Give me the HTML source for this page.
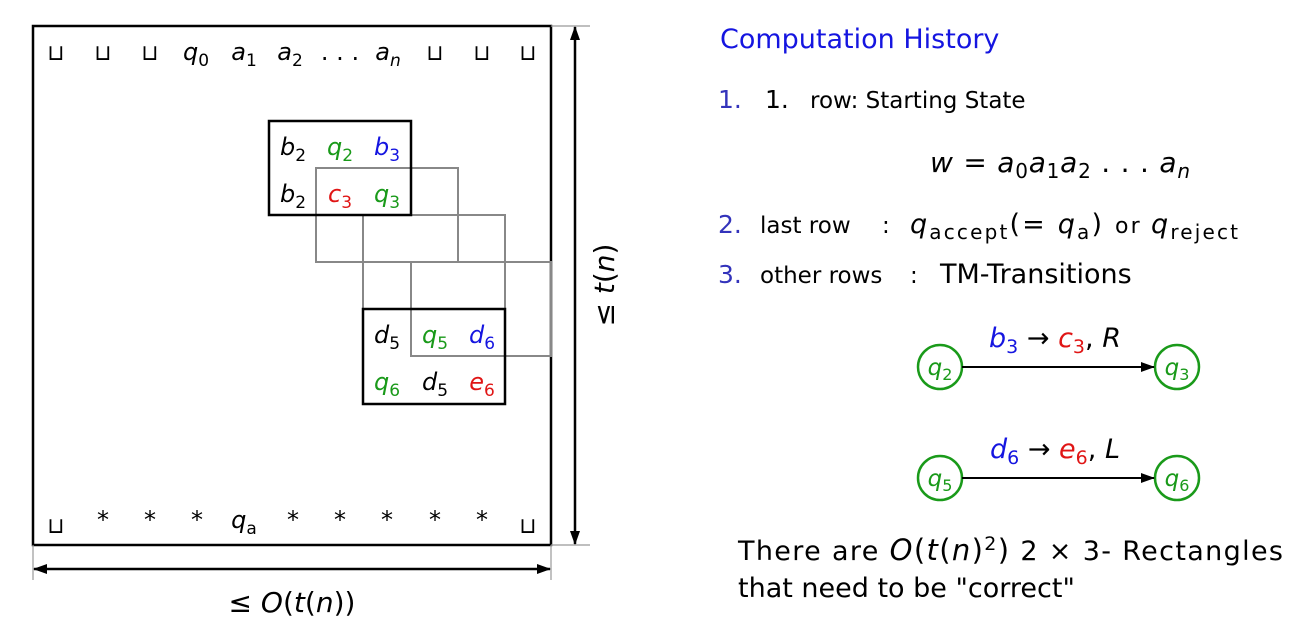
<!DOCTYPE html>
<html><head><meta charset="utf-8"><style>
html,body{margin:0;padding:0;background:#fff;}
svg{display:block;font-family:"DejaVu Sans","Liberation Sans",sans-serif;}
.m{font-style:italic;}
.g{fill:#1a9a1a;}.b{fill:#1515e0;}.r{fill:#e01515;}
</style></head><body>
<svg width="1311" height="624" viewBox="0 0 1311 624">
<defs><marker id="ah" markerUnits="userSpaceOnUse" markerWidth="14" markerHeight="10" refX="13" refY="5" orient="auto-start-reverse"><path d="M0,0 L14,5 L0,10 z" fill="#000"/></marker></defs>
<rect x="33" y="26" width="518" height="519" fill="none" stroke="#000" stroke-width="2.5"/>
<g font-size="24" text-anchor="middle">
<text x="56" y="60" font-size="22">⊔</text><text x="103" y="60" font-size="22">⊔</text><text x="150" y="60" font-size="22">⊔</text>
<text x="196" y="60" class="m">q<tspan font-size="17" dy="6" font-style="normal">0</tspan></text>
<text x="244" y="60" class="m">a<tspan font-size="17" dy="6" font-style="normal">1</tspan></text>
<text x="290" y="60" class="m">a<tspan font-size="17" dy="6" font-style="normal">2</tspan></text>
<text x="340" y="60">. . .</text>
<text x="388" y="60" class="m">a<tspan font-size="17" dy="6">n</tspan></text>
<text x="435" y="60" font-size="22">⊔</text><text x="482" y="60" font-size="22">⊔</text><text x="528" y="60" font-size="22">⊔</text>
</g>
<g fill="none" stroke="#888" stroke-width="2">
<rect x="316" y="168" width="142" height="94"/><rect x="363" y="215" width="142" height="94"/><rect x="411" y="262" width="140" height="94"/>
</g>
<rect x="269" y="121" width="142" height="94" fill="none" stroke="#000" stroke-width="2.5"/>
<rect x="363" y="309" width="142" height="95" fill="none" stroke="#000" stroke-width="2.5"/>
<g font-size="24" text-anchor="middle" class="m">
<text x="293" y="155">b<tspan font-size="17" dy="6" font-style="normal">2</tspan></text>
<text x="340" y="155" class="m g">q<tspan font-size="17" dy="6" font-style="normal">2</tspan></text>
<text x="387" y="155" class="m b">b<tspan font-size="17" dy="6" font-style="normal">3</tspan></text>
<text x="293" y="202">b<tspan font-size="17" dy="6" font-style="normal">2</tspan></text>
<text x="340" y="202" class="m r">c<tspan font-size="17" dy="6" font-style="normal">3</tspan></text>
<text x="387" y="202" class="m g">q<tspan font-size="17" dy="6" font-style="normal">3</tspan></text>
<text x="387" y="343">d<tspan font-size="17" dy="6" font-style="normal">5</tspan></text>
<text x="435" y="343" class="m g">q<tspan font-size="17" dy="6" font-style="normal">5</tspan></text>
<text x="482" y="343" class="m b">d<tspan font-size="17" dy="6" font-style="normal">6</tspan></text>
<text x="387" y="390" class="m g">q<tspan font-size="17" dy="6" font-style="normal">6</tspan></text>
<text x="435" y="390">d<tspan font-size="17" dy="6" font-style="normal">5</tspan></text>
<text x="482" y="390" class="m r">e<tspan font-size="17" dy="6" font-style="normal">6</tspan></text>
</g>
<g font-size="24" text-anchor="middle">
<text x="56" y="533" font-size="22">⊔</text>
<text x="103" y="528">*</text><text x="150" y="528">*</text><text x="197" y="528">*</text>
<text x="244" y="528" class="m">q<tspan font-size="17" dy="6" font-style="normal">a</tspan></text>
<text x="293" y="528">*</text><text x="340" y="528">*</text><text x="387" y="528">*</text><text x="435" y="528">*</text><text x="482" y="528">*</text>
<text x="528" y="533" font-size="22">⊔</text>
</g>
<g stroke="#999" stroke-width="1.2">
<line x1="551" y1="26" x2="590" y2="26"/><line x1="551" y1="545" x2="590" y2="545"/>
<line x1="33" y1="545" x2="33" y2="580"/><line x1="551" y1="545" x2="551" y2="580"/>
</g>
<line x1="575" y1="27" x2="575" y2="544" stroke="#000" stroke-width="2.5" marker-start="url(#ah)" marker-end="url(#ah)"/>
<line x1="34" y1="569" x2="550" y2="569" stroke="#000" stroke-width="2.5" marker-start="url(#ah)" marker-end="url(#ah)"/>
<text transform="translate(614,285) rotate(-90)" font-size="28" text-anchor="middle">≤ <tspan class="m">t</tspan>(<tspan class="m">n</tspan>)</text>
<text x="292" y="612" font-size="28" text-anchor="middle">≤ <tspan class="m">O</tspan>(<tspan class="m">t</tspan>(<tspan class="m">n</tspan>))</text>
<text x="720" y="48" font-size="27" fill="#1515e0">Computation History</text>
<g>
<text x="718" y="108" font-size="25" fill="#3333bb">1.</text><text x="765" y="108" font-size="25">1.</text><text x="810" y="108" font-size="23">row: Starting State</text>
<text x="930" y="172" font-size="28" class="m" textLength="260" lengthAdjust="spacing">w <tspan font-style="normal">=</tspan> a<tspan font-size="20" dy="6" font-style="normal">0</tspan><tspan dy="-6">a</tspan><tspan font-size="20" dy="6" font-style="normal">1</tspan><tspan dy="-6">a</tspan><tspan font-size="20" dy="6" font-style="normal">2</tspan><tspan dy="-6" font-style="normal"> . . . </tspan>a<tspan font-size="20" dy="6">n</tspan></text>
<text x="718" y="233" font-size="25" fill="#3333bb">2.</text><text x="760" y="233" font-size="23">last row</text><text x="882" y="233" font-size="23">:</text>
<text x="910" y="233" font-size="27" class="m" textLength="328" lengthAdjust="spacing">q<tspan font-size="20" dy="6" font-style="normal">accept</tspan><tspan dy="-6" font-style="normal">(= </tspan>q<tspan font-size="20" dy="6" font-style="normal">a</tspan><tspan dy="-6" font-style="normal">) </tspan><tspan font-style="normal" font-size="22">or </tspan>q<tspan font-size="20" dy="6" font-style="normal">reject</tspan></text>
<text x="718" y="283" font-size="25" fill="#3333bb">3.</text><text x="760" y="283" font-size="23">other rows</text><text x="910" y="283" font-size="23">:</text><text x="940" y="283" font-size="27">TM-Transitions</text>
</g>
<g>
<circle cx="940" cy="367" r="22" fill="none" stroke="#1a9a1a" stroke-width="2.5"/><circle cx="1177" cy="367" r="22" fill="none" stroke="#1a9a1a" stroke-width="2.5"/>
<text x="940" y="375" font-size="23" text-anchor="middle" class="m g">q<tspan font-size="16" dy="5" font-style="normal">2</tspan></text>
<text x="1177" y="375" font-size="23" text-anchor="middle" class="m g">q<tspan font-size="16" dy="5" font-style="normal">3</tspan></text>
<line x1="962" y1="367" x2="1154" y2="367" stroke="#000" stroke-width="2" marker-end="url(#ah)"/>
<text x="1055" y="347" font-size="27" text-anchor="middle" class="m"><tspan class="b">b</tspan><tspan class="b" font-size="19" dy="6" font-style="normal">3</tspan><tspan dy="-6" font-style="normal"> → </tspan><tspan class="r">c</tspan><tspan class="r" font-size="19" dy="6" font-style="normal">3</tspan><tspan dy="-6" font-style="normal">, </tspan>R</text>
</g>
<g>
<circle cx="940" cy="478" r="22" fill="none" stroke="#1a9a1a" stroke-width="2.5"/><circle cx="1177" cy="478" r="22" fill="none" stroke="#1a9a1a" stroke-width="2.5"/>
<text x="940" y="486" font-size="23" text-anchor="middle" class="m g">q<tspan font-size="16" dy="5" font-style="normal">5</tspan></text>
<text x="1177" y="486" font-size="23" text-anchor="middle" class="m g">q<tspan font-size="16" dy="5" font-style="normal">6</tspan></text>
<line x1="962" y1="478" x2="1154" y2="478" stroke="#000" stroke-width="2" marker-end="url(#ah)"/>
<text x="1055" y="458" font-size="27" text-anchor="middle" class="m"><tspan class="b">d</tspan><tspan class="b" font-size="19" dy="6" font-style="normal">6</tspan><tspan dy="-6" font-style="normal"> → </tspan><tspan class="r">e</tspan><tspan class="r" font-size="19" dy="6" font-style="normal">6</tspan><tspan dy="-6" font-style="normal">, </tspan>L</text>
</g>
<g font-size="27">
<text x="738" y="560" textLength="545" lengthAdjust="spacing">There are  <tspan class="m" font-size="29">O</tspan><tspan font-size="29">(</tspan><tspan class="m" font-size="29">t</tspan><tspan font-size="29">(</tspan><tspan class="m" font-size="29">n</tspan><tspan font-size="29">)</tspan><tspan font-size="19" dy="-10">2</tspan><tspan dy="10" font-size="29">)</tspan> 2 × 3- Rectangles</text>
<text x="738" y="597">that need to be "correct"</text>
</g>
</svg>
</body></html>
